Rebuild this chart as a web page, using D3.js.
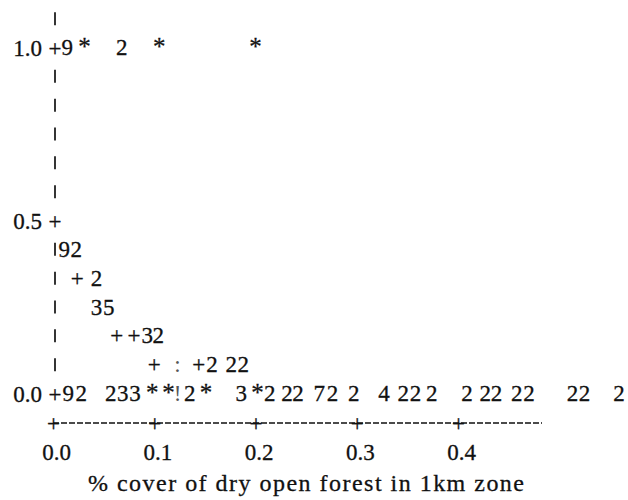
<!DOCTYPE html>
<html lang="en">
<head>
<meta charset="UTF-8">
<title>% cover of dry open forest</title>
<script src="https://d3js.org/d3.v7.min.js"></script>
<style>
  body { margin: 0; background: #fff; }
  svg text { font-family: "Liberation Serif", "Times New Roman", serif; fill: #111; stroke: #111; stroke-width: 0.3; }
</style>
</head>
<body>
<svg id="chart" width="628" height="500" font-family="Liberation Serif"></svg>
<script>
    // tick values
    const xTicks = [0, 0.1, 0.2, 0.3, 0.4];
    const yTicks = [0, 0.5, 1.0];
    // rows where the vertical axis shows a "|" instead of a "+"
    const barRows = [1.0833, 0.9167, 0.8333, 0.75, 0.6667, 0.5833, 0.4167, 0.3333, 0.25, 0.1667, 0.0833];

    // plotted symbols (x value, y value, symbol as printed)
    const pointX = [
        0.014, 0.031, 0.068, 0.105, 0.200,
        0.011, 0.023,
        0.024, 0.043,
        0.043, 0.055,
        0.063, 0.080, 0.093, 0.104,
        0.100, 0.123, 0.144, 0.157, 0.176, 0.188,
        0.015, 0.028, 0.057, 0.069, 0.081, 0.098, 0.114, 0.123, 0.135, 0.151,
        0.186, 0.202, 0.214, 0.231, 0.242, 0.263, 0.276, 0.297, 0.327, 0.346,
        0.358, 0.374, 0.409, 0.427, 0.438, 0.458, 0.470, 0.513, 0.525, 0.559
    ];
    const pointY = [
        1, 1, 1, 1, 1,
        0.4167, 0.4167,
        0.3333, 0.3333,
        0.25, 0.25,
        0.1667, 0.1667, 0.1667, 0.1667,
        0.0833, 0.0833, 0.0833, 0.0833, 0.0833, 0.0833,
        0, 0, 0, 0, 0, 0, 0, 0, 0, 0,
        0, 0, 0, 0, 0, 0, 0, 0, 0, 0,
        0, 0, 0, 0, 0, 0, 0, 0, 0, 0
    ];
    const pointSymbol = [
        "9", "*", "2", "*", "*",
        "9", "2",
        "+", "2",
        "3", "5",
        "+", "+", "3", "2",
        "+", ":", "+", "2", "2", "2",
        "9", "2", "2", "3", "3", "*", "*", "!", "2", "*",
        "3", "*", "2", "2", "2", "7", "2", "2", "4", "2",
        "2", "2", "2", "2", "2", "2", "2", "2", "2", "2"
    ];

    const svg = d3.select("#chart");
    const fontSize = 23;

    const x = d3.scaleLinear().domain([0, 0.4]).range([53, 458]);
    const y = d3.scaleLinear().domain([0, 1]).range([393, 47]);
    const axisY = 423;
    const baseline = 8; // offset from row centre to text baseline

    // vertical axis bars
    svg.append("g").selectAll("line")
        .data(barRows)
        .join("line")
        .attr("x1", x(0) + 2).attr("x2", x(0) + 2)
        .attr("y1", d => y(d) - 6)
        .attr("y2", d => y(d) + 7)
        .attr("stroke", "#111")
        .attr("stroke-width", 1.7);

    // vertical axis ticks and labels
    const yAxis = svg.append("g")
        .attr("transform", `translate(${x(0) + 2},0)`)
        .call(d3.axisLeft(y).tickValues(yTicks).tickSize(0).tickFormat(d3.format(".1f")));
    yAxis.select(".domain").remove();
    yAxis.attr("font-family", null).attr("font-size", null);
    yAxis.selectAll(".tick text")
        .attr("x", -13)
        .attr("dy", null)
        .attr("y", baseline)
        .attr("font-size", fontSize)
        .attr("fill", "#111");
    yAxis.selectAll(".tick").append("text")
        .attr("text-anchor", "middle")
        .attr("y", baseline)
        .attr("font-size", fontSize)
        .text("+");

    // horizontal axis: dashed rule with "+" ticks
    svg.append("line")
        .attr("x1", x(0)).attr("x2", x(0.483))
        .attr("y1", axisY).attr("y2", axisY)
        .attr("stroke", "#111")
        .attr("stroke-width", 1.4)
        .attr("stroke-dasharray", "6,2");

    const xAxis = svg.append("g")
        .attr("transform", `translate(0,${axisY})`)
        .call(d3.axisBottom(x).tickValues(xTicks).tickSize(0).tickFormat(d3.format(".1f")));
    xAxis.select(".domain").remove();
    xAxis.attr("font-family", null).attr("font-size", null);
    xAxis.selectAll(".tick text")
        .attr("dy", null)
        .attr("y", 29 + baseline)
        .attr("x", 3)
        .attr("font-size", fontSize)
        .attr("fill", "#111");
    xAxis.selectAll(".tick").append("text")
        .attr("text-anchor", "middle")
        .attr("y", baseline)
        .attr("font-size", fontSize)
        .text("+");

    // plotted symbols
    svg.append("g").selectAll("text")
        .data(pointX.map((v, i) => ({ x: v, y: pointY[i], s: pointSymbol[i] })))
        .join("text")
        .attr("x", d => x(d.x))
        .attr("y", d => y(d.y) + baseline)
        .attr("text-anchor", "middle")
        .attr("font-size", d => d.s === "*" ? 25 : fontSize)
        .style("fill", d => (d.s === ":" || d.s === "!") ? "#555" : "#111")
        .style("stroke", d => (d.s === ":" || d.s === "!") ? "none" : "#111")
        .text(d => d.s);

    // axis title, spread to the column width of the original print-out
    svg.append("text")
        .attr("x", 306)
        .attr("y", 483 + baseline)
        .attr("text-anchor", "middle")
        .attr("font-size", 24)
        .attr("textLength", 436)
        .attr("lengthAdjust", "spacing")
        .text("% cover of dry open forest in 1km zone");
</script>
</body>
</html>
